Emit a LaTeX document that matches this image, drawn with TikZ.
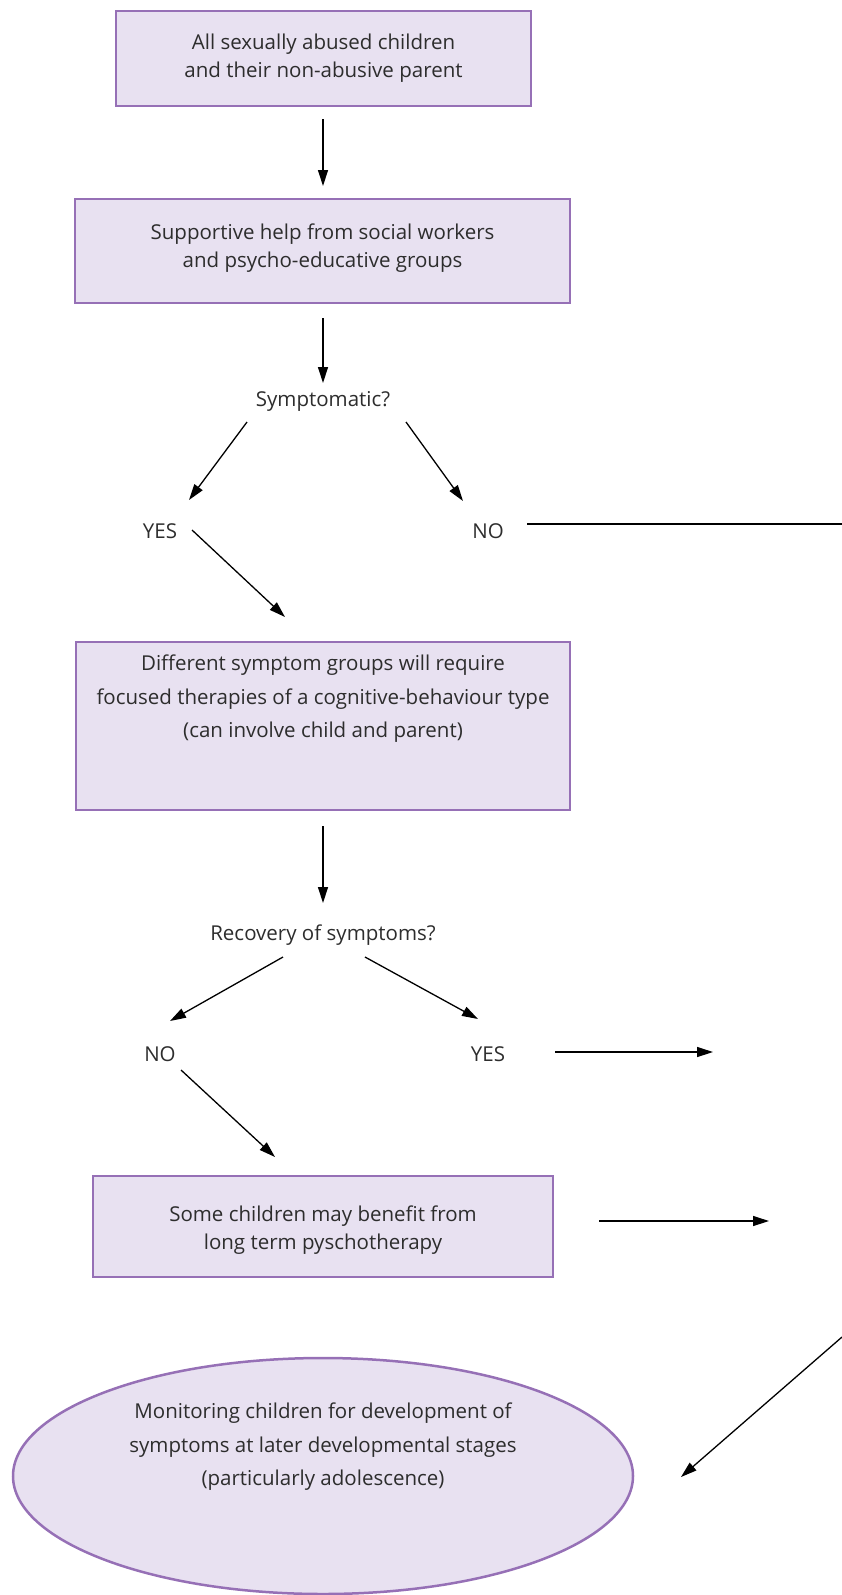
\documentclass[tikz,border=0pt]{standalone}
\usepackage{fontspec}
\setmainfont{Open Sans}
\usetikzlibrary{arrows.meta,shapes.geometric}
\definecolor{boxfill}{RGB}{232,225,241}
\definecolor{boxline}{RGB}{150,112,182}
\definecolor{txt}{RGB}{45,45,45}
\tikzset{
  box/.style={rectangle, draw=boxline, fill=boxfill, line width=2.5pt, text=txt, align=center, inner sep=0pt},
  oval/.style={ellipse, draw=boxline, fill=boxfill, line width=2.5pt, inner sep=0pt},
  lbl/.style={text=txt, inner sep=0pt, align=center},
  arr/.style={line width=1.3pt, -{Triangle[length=16pt,width=10pt]}},
  plain/.style={line width=1.3pt},
}
\begin{document}
\begin{tikzpicture}[x=1pt,y=-1pt]
\useasboundingbox (0,0) rectangle (842,1595);
\newcommand{\ft}{\fontsize{20.5}{28}\selectfont}
\newcommand{\fw}{\fontsize{20.5}{33.5}\selectfont}

\node[box, minimum width=415pt, minimum height=95pt, font=\ft] (b1) at (323.5,58.5)
  {All sexually abused children\\and their non-abusive parent};
\node[box, minimum width=495pt, minimum height=104pt, font=\ft] (b2) at (322.5,251) {};
\node[lbl, font=\ft] (b2t) at (322.5,248) {Supportive help from social workers\\and psycho-educative groups};
\node[lbl, font=\ft] (q1) at (323,401) {Symptomatic?};
\node[lbl, font=\ft] (y1) at (160,531) {YES};
\node[lbl, font=\ft] (n1) at (488,531) {NO};
\node[box, minimum width=494pt, minimum height=168pt] (b3) at (323,726) {};
\node[lbl, font=\fw] (b3t) at (323,699) {Different symptom groups will require\\focused therapies of a cognitive-behaviour type\\(can involve child and parent)};
\node[lbl, font=\ft] (q2) at (323,935) {Recovery of symptoms?};
\node[lbl, font=\ft] (n2) at (160,1054) {NO};
\node[lbl, font=\ft] (y2) at (488,1054) {YES};
\node[box, minimum width=460pt, minimum height=101pt] (b4) at (323,1226.5) {};
\node[lbl, font=\ft] (b4t) at (323,1230) {Some children may benefit from\\long term pyschotherapy};
\node[oval, minimum width=620pt, minimum height=236pt] (e1) at (323,1476) {};
\node[lbl, font=\fw] (e1txt) at (323,1447) {Monitoring children for development of\\symptoms at later developmental stages\\(particularly adolescence)};

% connector end points
\coordinate (q1l) at (247,422);
\coordinate (y1t) at (189,500);
\coordinate (q1r) at (406,422);
\coordinate (n1t) at (463,501);
\coordinate (y1r) at (192,530);
\coordinate (b3n) at (285,617);
\coordinate (n1r) at (527,524);
\coordinate (edge1) at (842,524);
\coordinate (q2l) at (283,957);
\coordinate (n2t) at (170,1021);
\coordinate (q2r) at (365,957);
\coordinate (y2t) at (478,1019);
\coordinate (y2r) at (555,1052);
\coordinate (y2e) at (713,1052);
\coordinate (n2r) at (181,1070);
\coordinate (b4n) at (275,1157);
\coordinate (b4r) at (599,1221);
\coordinate (b4e) at (769,1221);
\coordinate (edge2) at (842,1337);
\coordinate (e1n) at (681,1477);
\coordinate (b1s) at (323,119);
\coordinate (b2n) at (323,186);
\coordinate (b2s) at (323,318);
\coordinate (q1n) at (323,383);
\coordinate (b3s) at (323,826);
\coordinate (q2n) at (323,903);

\draw[arr] (b1s) -- (b2n);
\draw[arr] (b2s) -- (q1n);
\draw[arr] (q1l) -- (y1t);
\draw[arr] (q1r) -- (n1t);
\draw[arr] (y1r) -- (b3n);
\draw[plain] (n1r) -- (edge1);
\draw[arr] (b3s) -- (q2n);
\draw[arr] (q2l) -- (n2t);
\draw[arr] (q2r) -- (y2t);
\draw[arr] (y2r) -- (y2e);
\draw[arr] (n2r) -- (b4n);
\draw[arr] (b4r) -- (b4e);
\draw[arr] (edge2) -- (e1n);
\end{tikzpicture}
\end{document}
